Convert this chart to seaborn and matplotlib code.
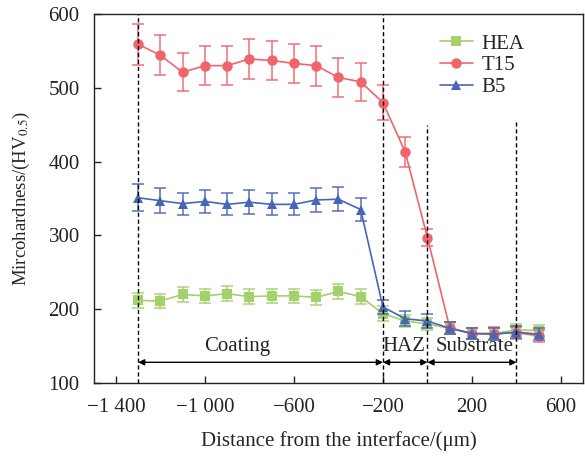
import numpy as np
import pandas as pd
import seaborn as sns
import matplotlib.pyplot as plt

# 数据: 距界面距离 (um) 与显微硬度
distance = [-1300, -1200, -1100, -1000, -900, -800, -700, -600, -500, -400,
            -300, -200, -100, 0, 100, 200, 300, 400, 500]

hea = [212, 211, 220, 218, 221, 217, 218, 218, 216, 224,
       217, 194, 184, 180, 174, 167, 167, 172, 171]
hea_err = [10, 10, 10, 10, 10, 10, 10, 10, 10, 10,
           10, 10, 8, 8, 8, 8, 8, 8, 8]

t15 = [559, 544, 521, 530, 530, 539, 537, 533, 530, 514,
       508, 480, 413, 297, 175, 167, 167, 168, 164]
t15_err = [28, 27, 26, 26, 26, 27, 27, 26, 27, 26,
           26, 24, 20, 12, 8, 7, 9, 8, 8]

b5 = [351, 347, 343, 346, 342, 345, 342, 342, 348, 349,
      335, 203, 187, 184, 174, 167, 166, 169, 166]
b5_err = [18, 17, 15, 16, 15, 16, 15, 15, 16, 16,
          15, 10, 10, 10, 8, 7, 8, 8, 8]

x_ticks = [-1400, -1000, -600, -200, 200, 600]
x_tick_labels = ["\u22121 400", "\u22121 000", "\u2212600", "\u2212200", "200", "600"]
y_ticks = [100, 200, 300, 400, 500, 600]

# 区域分界线 (位置, 顶端)
boundaries = [(-1300, 600), (-200, 600), (0, 450), (400, 455)]
regions = [("Coating", -1300, -200, -855), ("HAZ", -200, 0, -104), ("Substrate", 0, 400, 210)]

colors = {"HEA": "#a3d16b", "T15": "#f0646b", "B5": "#4866b6"}
markers = {"HEA": "s", "T15": "o", "B5": "^"}

sns.set_style("ticks")
plt.rcParams['font.family'] = ['Liberation Serif', 'DejaVu Serif']
plt.rcParams['mathtext.fontset'] = 'stix'
plt.rcParams['font.size'] = 15

df = pd.DataFrame({
    "distance": distance * 3,
    "hardness": hea + t15 + b5,
    "err": hea_err + t15_err + b5_err,
    "sample": ["HEA"] * len(distance) + ["T15"] * len(distance) + ["B5"] * len(distance),
})

fig = plt.figure(figsize=(5.85, 4.58), dpi=100)
ax = fig.add_axes([0.160, 0.1638, 0.837, 0.8057])

for name in ["HEA", "T15", "B5"]:
    sub = df[df["sample"] == name]
    ax.errorbar(sub["distance"], sub["hardness"], yerr=sub["err"], fmt="none",
                ecolor=colors[name], elinewidth=1.2, capsize=4, capthick=1.2, alpha=0.85)
    sns.lineplot(data=sub, x="distance", y="hardness", ax=ax, color=colors[name],
                 marker=markers[name], markersize=7.5 if name != "HEA" else 7,
                 markeredgewidth=0, linewidth=1.2, label=name)

for xb, ytop in boundaries:
    ax.plot([xb, xb], [100, ytop], color="black", linestyle=(0, (3, 2)), linewidth=1.0)

for text, x0, x1, xt in regions:
    ax.annotate("", xy=(x0, 128), xytext=(x1, 128),
                arrowprops=dict(arrowstyle="<|-|>", color="black", lw=1.0,
                                mutation_scale=9, shrinkA=0, shrinkB=0))
    ax.text(xt, 149, text, ha="center", va="center", fontsize=15)

ax.set_xlim(-1500, 700)
ax.set_ylim(100, 600)
ax.set_xticks(x_ticks)
ax.set_xticklabels(x_tick_labels)
ax.set_yticks(y_ticks)
ax.tick_params(direction="in", length=5, width=1, labelsize=15, colors="#222222")
ax.tick_params(axis="x", pad=11)
ax.tick_params(axis="y", pad=10)
ax.set_xlabel("Distance from the interface/(\u03bcm)", fontsize=15, labelpad=10)
ax.set_ylabel("Mircohardness/(HV$_{0.5}$)", fontsize=13.5, labelpad=12)
for sp in ax.spines.values():
    sp.set_linewidth(1.0)
    sp.set_color("#222222")

ax.legend(loc="upper left", bbox_to_anchor=(0.677, 0.985), frameon=False, fontsize=15,
          handlelength=1.6, handletextpad=0.4, labelspacing=0.1, borderaxespad=0.3)

plt.savefig("out.png", dpi=100)
